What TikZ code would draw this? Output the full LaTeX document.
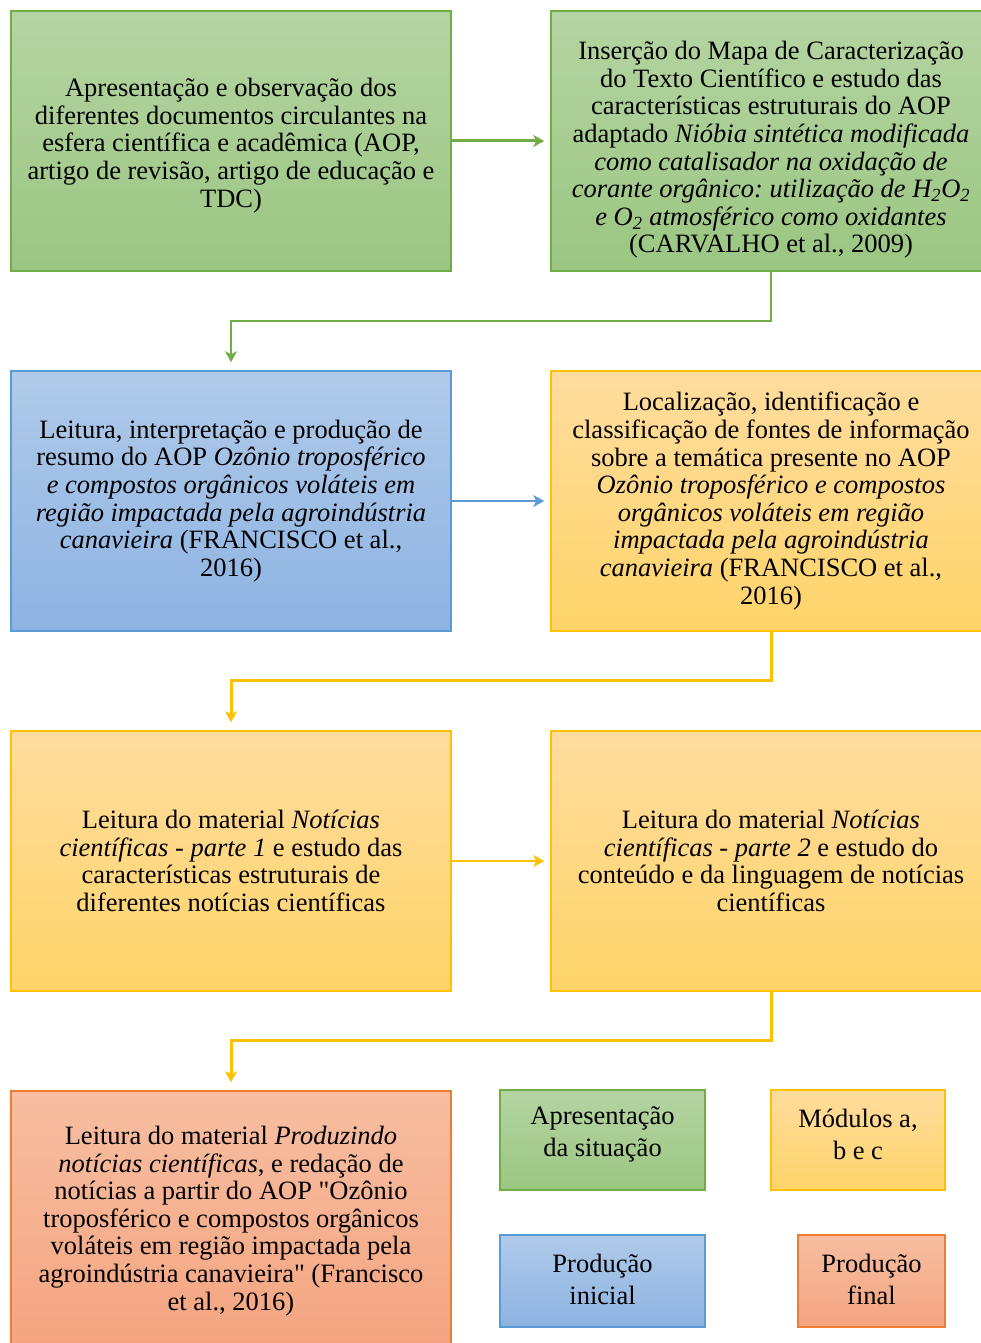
\documentclass[tikz,border=0pt]{standalone}
\usepackage{fontspec}
\setmainfont{Liberation Serif}
\newfontfamily\qfont{Liberation Serif}[Ligatures=TeXOff]
\newcommand\dq{{\qfont"}}
\usetikzlibrary{arrows.meta}
\definecolor{gtop}{HTML}{B5D4A2}
\definecolor{gbot}{HTML}{9BC682}
\definecolor{gline}{HTML}{70AD47}
\definecolor{btop}{HTML}{B0CAE9}
\definecolor{bbot}{HTML}{8DB3E2}
\definecolor{bline}{HTML}{5B9BD5}
\definecolor{ytop}{HTML}{FFDC9E}
\definecolor{ybot}{HTML}{FFD469}
\definecolor{yline}{HTML}{FFC000}
\definecolor{otop}{HTML}{F7BEA2}
\definecolor{obot}{HTML}{F4A47F}
\definecolor{oline}{HTML}{ED7D31}
\tikzset{
  box/.style={draw, line width=1.6pt, minimum width=440pt, minimum height=260pt,
    align=center, inner sep=0pt, font=\fontsize{26.5}{27.6}\selectfont\frenchspacing},
  greenbox/.style={box, top color=gtop, bottom color=gbot, draw=gline},
  bluebox/.style={box, top color=btop, bottom color=bbot, draw=bline},
  yellowbox/.style={box, top color=ytop, bottom color=ybot, draw=yline},
  orangebox/.style={box, top color=otop, bottom color=obot, draw=oline},
  boxtext/.style={align=center, inner sep=0pt, font=\fontsize{26.5}{27.6}\selectfont\frenchspacing},
  legend/.style={align=center, inner sep=0pt, font=\fontsize{26.5}{32}\selectfont},
  tip/.style={-{Stealth[length=11pt,width=12pt,inset=3pt]}},
}
\begin{document}
\begin{tikzpicture}[x=1pt,y=-1pt]
\useasboundingbox (0,0) rectangle (981,1343);
% main boxes
\node[greenbox] (b1) at (231,141) {\rule{0pt}{5pt}\\[-5pt]Apresentação e observação dos\\diferentes documentos circulantes na\\esfera científica e acadêmica (AOP,\\artigo de revisão, artigo de educação e\\TDC)};
\node[greenbox] (b2) at (771,141) {};
\node[boxtext] (b2t) at (771,150) {Inserção do Mapa de Caracterização\\do Texto Científico e estudo das\\características estruturais do AOP\\adaptado \textit{Nióbia sintética modificada}\\\textit{como catalisador na oxidação de}\\\textit{corante orgânico: utilização de H\textsubscript{2}O\textsubscript{2}}\\\textit{e O\textsubscript{2} atmosférico como oxidantes}\\(CARVALHO et al., 2009)};
\node[bluebox] (b3) at (231,501) {Leitura, interpretação e produção de\\resumo do AOP \textit{Ozônio troposférico}\\\textit{e compostos orgânicos voláteis em}\\\textit{região impactada pela agroindústria}\\\textit{canavieira} (FRANCISCO et al.,\\2016)};
\node[yellowbox] (b4) at (771,501) {Localização, identificação e\\classificação de fontes de informação\\sobre a temática presente no AOP\\\textit{Ozônio troposférico e compostos}\\\textit{orgânicos voláteis em região}\\\textit{impactada pela agroindústria}\\\textit{canavieira} (FRANCISCO et al.,\\2016)};
\node[yellowbox] (b5) at (231,861) {Leitura do material \textit{Notícias}\\\textit{científicas - parte 1} e estudo das\\características estruturais de\\diferentes notícias científicas};
\node[yellowbox] (b6) at (771,861) {Leitura do material \textit{Notícias}\\\textit{científicas - parte 2} e estudo do\\conteúdo e da linguagem de notícias\\científicas};
\node[orangebox] (b7) at (231,1221) {Leitura do material \textit{Produzindo}\\\textit{notícias científicas}, e redação de\\notícias a partir do AOP \dq Ozônio\\troposférico e compostos orgânicos\\voláteis em região impactada pela\\agroindústria canavieira\dq{} (Francisco\\et al., 2016)};
% legend boxes
\node[greenbox, minimum width=205pt, minimum height=100pt] (l1) at (602.5,1140) {};
\node[legend] (l1t) at (602.5,1134) {Apresentação\\da situação};
\node[yellowbox, minimum width=174pt, minimum height=100pt] (l2) at (858,1140) {};
\node[legend] (l2t) at (858,1134) {Módulos a,\\b e c};
\node[bluebox, minimum width=205pt, minimum height=92pt] (l3) at (602.5,1281) {};
\node[legend] (l3t) at (602.5,1279) {Produção\\inicial};
\node[orangebox, minimum width=147pt, minimum height=92pt] (l4) at (871.5,1281) {};
\node[legend] (l4t) at (871.5,1279) {Produção\\final};
% connectors
\draw[gline, line width=3pt, tip, shorten >=6pt] (b1.east) -- (b2.west);
\draw[gline, line width=1.8pt, tip, shorten >=8pt] (b2.south) -- ++(0,49) -| (b3.north);
\draw[bline, line width=1.5pt, tip, shorten >=6pt] (b3.east) -- (b4.west);
\draw[yline, line width=3pt, tip, shorten >=8pt] (b4.south) -- ++(0,49) -| (b5.north);
\draw[yline, line width=1.5pt, tip, shorten >=6pt] (b5.east) -- (b6.west);
\draw[yline, line width=3pt, tip, shorten >=8pt] (b6.south) -- ++(0,49) -| (b7.north);
\end{tikzpicture}
\end{document}
